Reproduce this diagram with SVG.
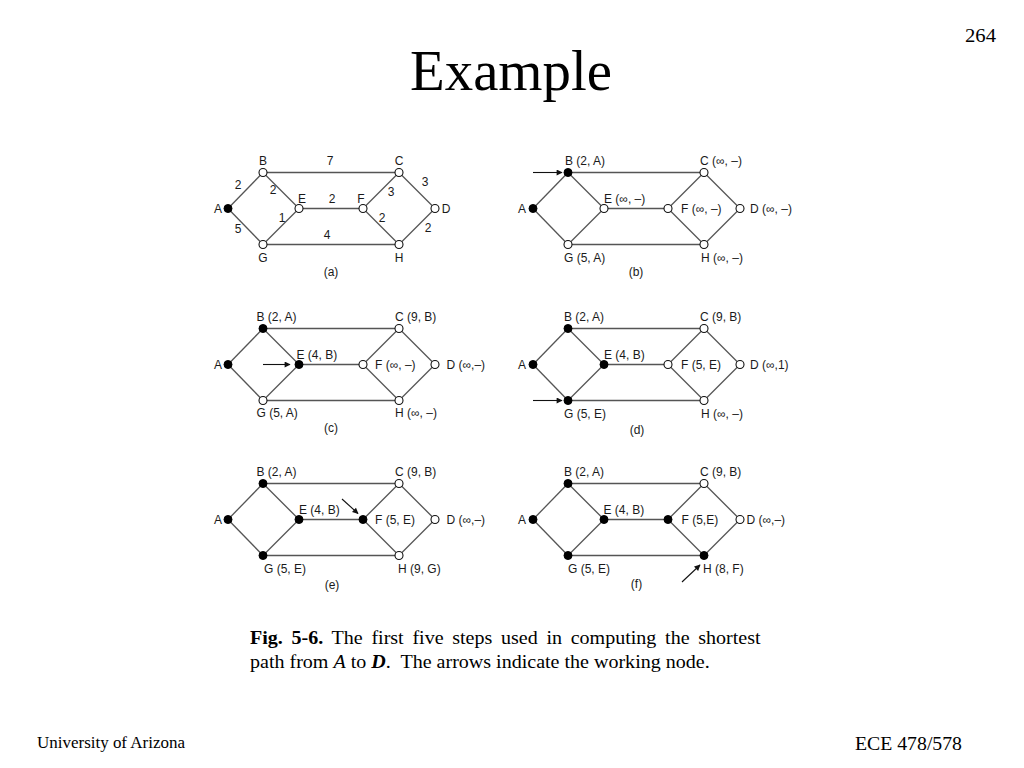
<svg xmlns="http://www.w3.org/2000/svg" width="1024" height="768" viewBox="0 0 1024 768">
<style>
.serif{font-family:"Liberation Serif","Times New Roman",serif;fill:#000}
.lab{font-family:"Liberation Sans",Arial,sans-serif;font-size:12px;fill:#1a1a1a}
.mid{text-anchor:middle}
.edge{stroke:#555;stroke-width:1.3;fill:none}
.open{fill:#fff;stroke:#111;stroke-width:1.1}
.full{fill:#000;stroke:#000;stroke-width:1}
.arr{stroke:#111;stroke-width:1.1;fill:none;marker-end:url(#ah)}
</style>
<defs>
<marker id="ah" viewBox="0 0 10 10" refX="9" refY="5" markerWidth="7" markerHeight="6" markerUnits="userSpaceOnUse" orient="auto">
<path d="M0,0 L10,5 L0,10 z" fill="#111"/>
</marker>
<g id="edges">
<line class="edge" x1="228" y1="208.5" x2="263" y2="172.5"/>
<line class="edge" x1="228" y1="208.5" x2="263" y2="244.5"/>
<line class="edge" x1="263" y1="172.5" x2="299" y2="208.5"/>
<line class="edge" x1="263" y1="244.5" x2="299" y2="208.5"/>
<line class="edge" x1="263" y1="172.5" x2="399" y2="172.5"/>
<line class="edge" x1="299" y1="208.5" x2="363" y2="208.5"/>
<line class="edge" x1="263" y1="244.5" x2="399" y2="244.5"/>
<line class="edge" x1="363" y1="208.5" x2="399" y2="172.5"/>
<line class="edge" x1="363" y1="208.5" x2="399" y2="244.5"/>
<line class="edge" x1="399" y1="172.5" x2="435" y2="208.5"/>
<line class="edge" x1="399" y1="244.5" x2="435" y2="208.5"/>
</g>
</defs>
<rect width="1024" height="768" fill="#fff"/>

<text class="serif" x="996" y="42" font-size="18" text-anchor="end" textLength="31" lengthAdjust="spacingAndGlyphs">264</text>
<text class="serif" x="511" y="90" font-size="56" text-anchor="middle" textLength="202" lengthAdjust="spacingAndGlyphs">Example</text>

<!-- Panel (a) -->
<g id="panel-a">
<g id="connectors-a"><use href="#edges"/></g>
<g id="a-A"><circle class="full" cx="228" cy="208.5" r="4"/><text class="lab mid" x="218" y="213">A</text></g>
<g id="a-B"><circle class="open" cx="263" cy="172.5" r="4"/><text class="lab mid" x="263" y="165">B</text></g>
<g id="a-C"><circle class="open" cx="399" cy="172.5" r="4"/><text class="lab mid" x="399" y="165">C</text></g>
<g id="a-D"><circle class="open" cx="435" cy="208.5" r="4"/><text class="lab mid" x="446" y="213">D</text></g>
<g id="a-E"><circle class="open" cx="299" cy="208.5" r="4"/><text class="lab mid" x="302" y="203">E</text></g>
<g id="a-F"><circle class="open" cx="363" cy="208.5" r="4"/><text class="lab mid" x="361" y="203">F</text></g>
<g id="a-G"><circle class="open" cx="263" cy="244.5" r="4"/><text class="lab mid" x="263" y="261.5">G</text></g>
<g id="a-H"><circle class="open" cx="399" cy="244.5" r="4"/><text class="lab mid" x="399" y="261.5">H</text></g>
<g id="a-weights">
<text class="lab mid" x="330" y="165">7</text>
<text class="lab mid" x="425" y="186">3</text>
<text class="lab mid" x="238" y="189">2</text>
<text class="lab mid" x="273" y="194">2</text>
<text class="lab mid" x="332" y="203">2</text>
<text class="lab mid" x="391" y="196">3</text>
<text class="lab mid" x="282" y="222">1</text>
<text class="lab mid" x="382" y="222">2</text>
<text class="lab mid" x="428" y="232">2</text>
<text class="lab mid" x="238" y="233">5</text>
<text class="lab mid" x="327" y="239">4</text>
</g>
<text class="lab mid" x="331" y="276">(a)</text>
</g>

<!-- Panel (b) -->
<g id="panel-b" transform="translate(305,0)">
<g id="connectors-b"><use href="#edges"/><line class="arr" x1="228" y1="172.5" x2="257" y2="172.5"/></g>
<g id="b-A"><circle class="full" cx="228" cy="208.5" r="4"/><text class="lab mid" x="217" y="213">A</text></g>
<g id="b-B"><circle class="full" cx="263" cy="172.5" r="4"/><text class="lab" x="260" y="165">B (2, A)</text></g>
<g id="b-C"><circle class="open" cx="399" cy="172.5" r="4"/><text class="lab" x="395" y="165">C (∞, –)</text></g>
<g id="b-D"><circle class="open" cx="435" cy="208.5" r="4"/><text class="lab" x="445" y="213">D (∞, –)</text></g>
<g id="b-E"><circle class="open" cx="299" cy="208.5" r="4"/><text class="lab" x="299" y="203">E (∞, –)</text></g>
<g id="b-F"><circle class="open" cx="363" cy="208.5" r="4"/><text class="lab" x="376" y="213">F (∞, –)</text></g>
<g id="b-G"><circle class="open" cx="263" cy="244.5" r="4"/><text class="lab" x="259" y="261.5">G (5, A)</text></g>
<g id="b-H"><circle class="open" cx="399" cy="244.5" r="4"/><text class="lab" x="396" y="261.5">H (∞, –)</text></g>
<text class="lab mid" x="331" y="276">(b)</text>
</g>

<!-- Panel (c) -->
<g id="panel-c" transform="translate(0,156)">
<g id="connectors-c"><use href="#edges"/><line class="arr" x1="263" y1="208.5" x2="290" y2="208.5"/></g>
<g id="c-A"><circle class="full" cx="228" cy="208.5" r="4"/><text class="lab mid" x="218" y="213">A</text></g>
<g id="c-B"><circle class="full" cx="263" cy="172.5" r="4"/><text class="lab" x="256.5" y="165">B (2, A)</text></g>
<g id="c-C"><circle class="open" cx="399" cy="172.5" r="4"/><text class="lab" x="395" y="165">C (9, B)</text></g>
<g id="c-D"><circle class="open" cx="435" cy="208.5" r="4"/><text class="lab" x="446.5" y="213">D (∞,–)</text></g>
<g id="c-E"><circle class="full" cx="299" cy="208.5" r="4"/><text class="lab" x="296.5" y="203">E (4, B)</text></g>
<g id="c-F"><circle class="open" cx="363" cy="208.5" r="4"/><text class="lab" x="375" y="213">F (∞, –)</text></g>
<g id="c-G"><circle class="open" cx="263" cy="244.5" r="4"/><text class="lab" x="256.5" y="261">G (5, A)</text></g>
<g id="c-H"><circle class="open" cx="399" cy="244.5" r="4"/><text class="lab" x="395" y="261">H (∞, –)</text></g>
<text class="lab mid" x="331" y="276">(c)</text>
</g>

<!-- Panel (d) -->
<g id="panel-d" transform="translate(305,156)">
<g id="connectors-d"><use href="#edges"/><line class="arr" x1="228" y1="244.5" x2="257" y2="244.5"/></g>
<g id="d-A"><circle class="full" cx="228" cy="208.5" r="4"/><text class="lab mid" x="217" y="213">A</text></g>
<g id="d-B"><circle class="full" cx="263" cy="172.5" r="4"/><text class="lab" x="259" y="165">B (2, A)</text></g>
<g id="d-C"><circle class="open" cx="399" cy="172.5" r="4"/><text class="lab" x="395" y="165">C (9, B)</text></g>
<g id="d-D"><circle class="open" cx="435" cy="208.5" r="4"/><text class="lab" x="445" y="213">D (∞,1)</text></g>
<g id="d-E"><circle class="full" cx="299" cy="208.5" r="4"/><text class="lab" x="299" y="203">E (4, B)</text></g>
<g id="d-F"><circle class="open" cx="363" cy="208.5" r="4"/><text class="lab" x="376" y="213">F (5, E)</text></g>
<g id="d-G"><circle class="full" cx="263" cy="244.5" r="4"/><text class="lab" x="259" y="261.5">G (5, E)</text></g>
<g id="d-H"><circle class="open" cx="399" cy="244.5" r="4"/><text class="lab" x="396" y="261.5">H (∞, –)</text></g>
<text class="lab mid" x="332" y="278">(d)</text>
</g>

<!-- Panel (e) -->
<g id="panel-e" transform="translate(0,311)">
<g id="connectors-e"><use href="#edges"/><line class="arr" x1="342" y1="188" x2="358" y2="202.5"/></g>
<g id="e-A"><circle class="full" cx="228" cy="208.5" r="4"/><text class="lab mid" x="218" y="213">A</text></g>
<g id="e-B"><circle class="full" cx="263" cy="172.5" r="4"/><text class="lab" x="256.5" y="165">B (2, A)</text></g>
<g id="e-C"><circle class="open" cx="399" cy="172.5" r="4"/><text class="lab" x="395" y="165">C (9, B)</text></g>
<g id="e-D"><circle class="open" cx="435" cy="208.5" r="4"/><text class="lab" x="446.5" y="213">D (∞,–)</text></g>
<g id="e-E"><circle class="full" cx="299" cy="208.5" r="4"/><text class="lab" x="299" y="203">E (4, B)</text></g>
<g id="e-F"><circle class="full" cx="363" cy="208.5" r="4"/><text class="lab" x="375" y="213">F (5, E)</text></g>
<g id="e-G"><circle class="full" cx="263" cy="244.5" r="4"/><text class="lab" x="264" y="261.5">G (5, E)</text></g>
<g id="e-H"><circle class="open" cx="399" cy="244.5" r="4"/><text class="lab" x="398" y="261.5">H (9, G)</text></g>
<text class="lab mid" x="332" y="278">(e)</text>
</g>

<!-- Panel (f) -->
<g id="panel-f" transform="translate(305,311)">
<g id="connectors-f"><use href="#edges"/><line class="arr" x1="377" y1="271" x2="395" y2="254"/></g>
<g id="f-A"><circle class="full" cx="228" cy="208.5" r="4"/><text class="lab mid" x="217" y="213">A</text></g>
<g id="f-B"><circle class="full" cx="263" cy="172.5" r="4"/><text class="lab" x="259" y="165">B (2, A)</text></g>
<g id="f-C"><circle class="open" cx="399" cy="172.5" r="4"/><text class="lab" x="395" y="165">C (9, B)</text></g>
<g id="f-D"><circle class="open" cx="435" cy="208.5" r="4"/><text class="lab" x="441.5" y="213">D (∞,–)</text></g>
<g id="f-E"><circle class="full" cx="299" cy="208.5" r="4"/><text class="lab" x="298.5" y="203">E (4, B)</text></g>
<g id="f-F"><circle class="full" cx="363" cy="208.5" r="4"/><text class="lab" x="376.5" y="213">F (5,E)</text></g>
<g id="f-G"><circle class="full" cx="263" cy="244.5" r="4"/><text class="lab" x="263" y="261.5">G (5, E)</text></g>
<g id="f-H"><circle class="full" cx="399" cy="244.5" r="4"/><text class="lab" x="398" y="261.5">H (8, F)</text></g>
<text class="lab mid" x="331.5" y="277">(f)</text>
</g>

<!-- Caption -->
<g id="caption" transform="translate(250,0) scale(1.055,1)">
<text class="serif" x="0" y="644" font-size="19" word-spacing="3.5"><tspan font-weight="bold">Fig. 5-6.</tspan> The first five steps used in computing the shortest</text>
<text class="serif" x="0" y="668" font-size="19" xml:space="preserve">path from <tspan font-style="italic">A</tspan> to <tspan font-style="italic" font-weight="bold">D</tspan>.  The arrows indicate the working node.</text>
</g>

<!-- Footer -->
<text class="serif" x="37" y="748" font-size="16" textLength="148" lengthAdjust="spacingAndGlyphs">University of Arizona</text>
<text class="serif" x="962" y="750" font-size="18" text-anchor="end" textLength="107" lengthAdjust="spacingAndGlyphs">ECE 478/578</text>
</svg>
